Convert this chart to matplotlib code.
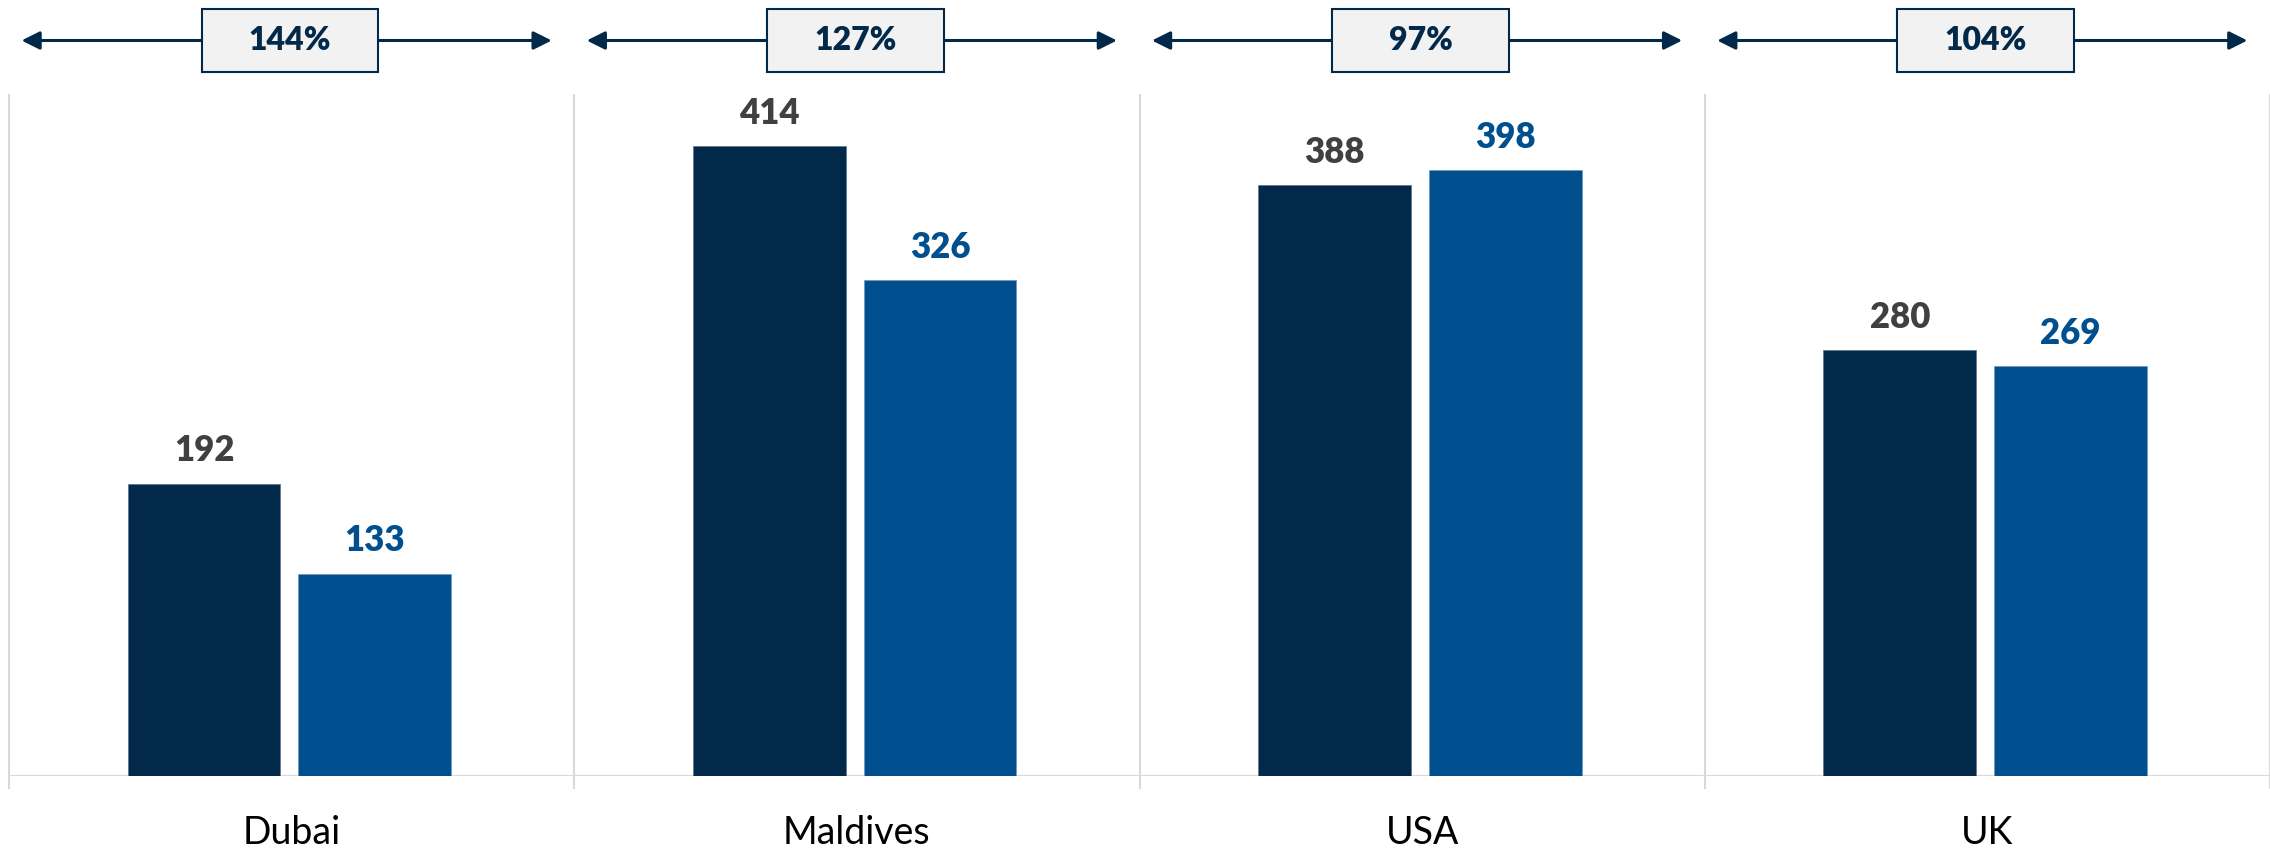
import matplotlib.pyplot as plt
import matplotlib.transforms as mtransforms
from matplotlib.patches import Rectangle
import numpy as np

# chart data
countries = ["Dubai", "Maldives", "USA", "UK"]
series_a = [192, 414, 388, 280]
series_b = [133, 326, 398, 269]
ratio_labels = ["144%", "127%", "97%", "104%"]

DARK = "#03294A"
BLUE = "#00508F"
GRID = "#D9D9D9"

plt.rcParams['font.family'] = ['Lato', 'DejaVu Sans']

fig = plt.figure(figsize=(22.7, 8.52), dpi=100)
ax = fig.add_axes([0.004, (852 - 776) / 852, 0.996, (776 - 94) / 852])

x = np.arange(len(countries))
w = 0.27
off_a = -0.155
off_b = 0.147
ax.bar(x + off_a, series_a, width=w, color=DARK, edgecolor="#5a7390", linewidth=0.5, zorder=3)
ax.bar(x + off_b, series_b, width=w, color=BLUE, edgecolor="#6f97bd", linewidth=0.5, zorder=3)

for xi, a, b in zip(x, series_a, series_b):
    ax.annotate(f"{a}", (xi + off_a, a), xytext=(0, 16), textcoords="offset points",
                ha="center", va="baseline", fontsize=25, fontweight="heavy", color="#404040")
    ax.annotate(f"{b}", (xi + off_b, b), xytext=(0, 16), textcoords="offset points",
                ha="center", va="baseline", fontsize=25, fontweight="heavy", color=BLUE)

ax.set_xlim(-0.5, len(countries) - 0.5)
ax.set_ylim(0, 448)
ax.axis("off")

# baseline and category separators
trans = mtransforms.blended_transform_factory(ax.transData, ax.transAxes)
ax.plot([-0.5, len(countries) - 0.5], [0, 0], color=GRID, lw=1.5, zorder=2)
ax.vlines(np.arange(len(countries) + 1) - 0.5, -13 / 682, 1, transform=trans,
          color=GRID, lw=1.5, clip_on=False, zorder=1)

# category labels
for xi, name in zip(x, countries):
    ax.text(xi, -68 / 682, name, transform=trans, ha="center", va="baseline",
            fontsize=27, color="black")

# ratio boxes with double arrows on top
arrow_y = (776 - 40.5) / 682
box_h = 63 / 682
box_w = 0.313
for xi, lab in zip(x, ratio_labels):
    ax.annotate("", xy=(xi + 0.46, arrow_y), xytext=(xi - 0.478, arrow_y),
                xycoords=trans, textcoords=trans,
                arrowprops=dict(arrowstyle="<|-|>,head_length=1.1,head_width=0.55",
                                color=DARK, lw=2.2, shrinkA=0, shrinkB=0),
                annotation_clip=False)
    ax.add_patch(Rectangle((xi - 0.003 - box_w / 2, arrow_y - box_h / 2), box_w, box_h,
                           transform=trans, facecolor="#F2F2F2", edgecolor=DARK,
                           lw=1.5, clip_on=False, zorder=5))
    ax.text(xi - 0.003, arrow_y, lab, transform=trans, ha="center", va="center",
            fontsize=23, fontweight="heavy", color=DARK, zorder=6)

fig.savefig("out.png", dpi=100)
